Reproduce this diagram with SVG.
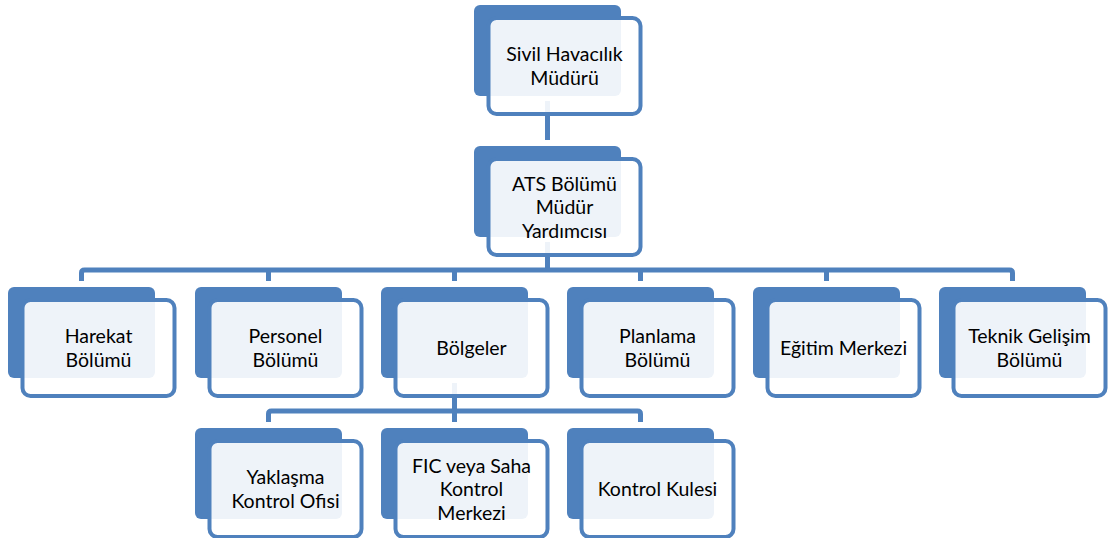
<svg xmlns="http://www.w3.org/2000/svg" width="1110" height="538" viewBox="0 0 1110 538">
  <style>
    .link { fill: none; stroke: #4f81bd; stroke-width: 5; stroke-linejoin: round; }
    .back { fill: #4f81bd; }
    .front { fill: #ffffff; fill-opacity: 0.9; stroke: #4f81bd; stroke-width: 4; }
    .label { font-family: Lato, "Liberation Sans", sans-serif; font-size: 19.5px; fill: #000000; text-anchor: middle; }
  </style>
  <defs>
    <rect id="backShape" class="back" x="0" y="0" width="147" height="91" rx="6" ry="6"/>
    <rect id="frontShape" class="front" x="14.5" y="13" width="152" height="96" rx="8" ry="8"/>
  </defs>

  <!-- connectors -->
  <g id="connectors">
    <path class="link" d="M547.5 101 V140"/>
    <path class="link" d="M547.5 242 V270"/>
    <path class="link" d="M81.5 281 V273 Q81.5 270 84.5 270 H1009.5 Q1012.5 270 1012.5 273 V281"/>
    <path class="link" d="M268.5 270 V281 M454.5 270 V281 M640.5 270 V281 M826.5 270 V281"/>
    <path class="link" d="M454.5 383 V411"/>
    <path class="link" d="M268.5 422 V414 Q268.5 411 271.5 411 H637.5 Q640.5 411 640.5 414 V422"/>
    <path class="link" d="M454.5 411 V422"/>
  </g>

  <!-- level 0 -->
  <g id="node-sivil-havacilik" transform="translate(474,5)">
    <use href="#backShape"/><use href="#frontShape"/>
    <text class="label" x="90.5" y="56">Sivil Havacılık</text>
    <text class="label" x="90.5" y="79.5">Müdürü</text>
  </g>

  <!-- level 1 -->
  <g id="node-ats" transform="translate(474,146)">
    <use href="#backShape"/><use href="#frontShape"/>
    <text class="label" x="90.5" y="44.5">ATS Bölümü</text>
    <text class="label" x="90.5" y="68">Müdür</text>
    <text class="label" x="90.5" y="91.5">Yardımcısı</text>
  </g>

  <!-- level 2 -->
  <g id="node-harekat" transform="translate(8,287)">
    <use href="#backShape"/><use href="#frontShape"/>
    <text class="label" x="90.5" y="56">Harekat</text>
    <text class="label" x="90.5" y="79.5">Bölümü</text>
  </g>
  <g id="node-personel" transform="translate(195,287)">
    <use href="#backShape"/><use href="#frontShape"/>
    <text class="label" x="90.5" y="56">Personel</text>
    <text class="label" x="90.5" y="79.5">Bölümü</text>
  </g>
  <g id="node-bolgeler" transform="translate(381,287)">
    <use href="#backShape"/><use href="#frontShape"/>
    <text class="label" x="90.5" y="68">Bölgeler</text>
  </g>
  <g id="node-planlama" transform="translate(567,287)">
    <use href="#backShape"/><use href="#frontShape"/>
    <text class="label" x="90.5" y="56">Planlama</text>
    <text class="label" x="90.5" y="79.5">Bölümü</text>
  </g>
  <g id="node-egitim" transform="translate(753,287)">
    <use href="#backShape"/><use href="#frontShape"/>
    <text class="label" x="90.5" y="68">Eğitim Merkezi</text>
  </g>
  <g id="node-teknik" transform="translate(939,287)">
    <use href="#backShape"/><use href="#frontShape"/>
    <text class="label" x="90.5" y="56">Teknik Gelişim</text>
    <text class="label" x="90.5" y="79.5">Bölümü</text>
  </g>

  <!-- level 3 -->
  <g id="node-yaklasma" transform="translate(195,428)">
    <use href="#backShape"/><use href="#frontShape"/>
    <text class="label" x="90.5" y="56">Yaklaşma</text>
    <text class="label" x="90.5" y="79.5">Kontrol Ofisi</text>
  </g>
  <g id="node-fic" transform="translate(381,428)">
    <use href="#backShape"/><use href="#frontShape"/>
    <text class="label" x="90.5" y="44.5">FIC veya Saha</text>
    <text class="label" x="90.5" y="68">Kontrol</text>
    <text class="label" x="90.5" y="91.5">Merkezi</text>
  </g>
  <g id="node-kontrol-kulesi" transform="translate(567,428)">
    <use href="#backShape"/><use href="#frontShape"/>
    <text class="label" x="90.5" y="68">Kontrol Kulesi</text>
  </g>
</svg>
